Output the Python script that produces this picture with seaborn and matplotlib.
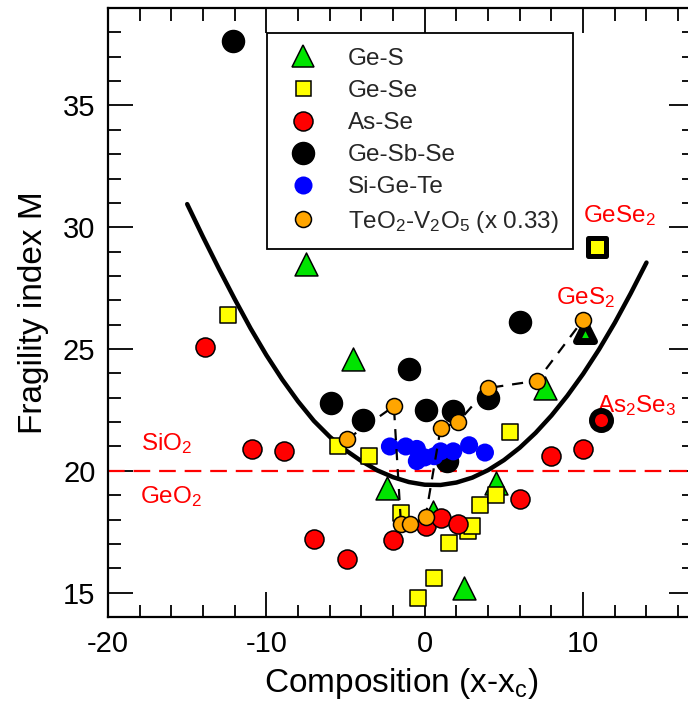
import numpy as np
import pandas as pd
import matplotlib
matplotlib.use("Agg")
import matplotlib.pyplot as plt
import seaborn as sns
from matplotlib.lines import Line2D

# ---------------- data ----------------
ges_x = [-7.5, -4.5, -2.4, 0.5, 2.5, 4.5, 7.6]
ges_y = [28.5, 24.6, 19.3, 18.3, 15.2, 19.5, 23.4]
ges2_x = [10.1]
ges2_y = [25.7]

gese_x = [-12.4, -5.5, -3.5, -1.5, -0.45, 0.6, 1.5, 2.7, 3.0, 3.5, 4.5, 5.4]
gese_y = [26.4, 21.0, 20.6, 18.25, 14.8, 15.6, 17.05, 17.55, 17.75, 18.6, 19.0, 21.6]
gese2_x = [10.9]
gese2_y = [29.2]

asse_x = [-13.9, -10.9, -8.9, -7.0, -4.9, -2.0, 0.05, 1.0, 2.1, 6.0, 8.0, 10.0]
asse_y = [25.1, 20.9, 20.8, 17.2, 16.4, 17.15, 17.75, 18.05, 17.8, 18.85, 20.6, 20.9]
as2se3_x = [11.1]
as2se3_y = [22.1]

gesbse_x = [-12.1, -5.9, -3.9, -1.0, 0.05, 1.8, 1.4, 4.0, 6.0]
gesbse_y = [37.65, 22.8, 22.1, 24.2, 22.5, 22.45, 20.4, 23.0, 26.1]

sigete_x = [-2.2, -1.2, -0.5, -0.5, 0.0, 0.6, 1.0, 1.8, 2.8, 3.8]
sigete_y = [21.0, 21.0, 20.9, 20.4, 20.55, 20.6, 20.8, 20.8, 21.05, 20.75]

teo_x = [-4.9, -1.95, -1.5, -0.95, 0.05, 1.0, 2.1, 4.0, 7.1, 10.0]
teo_y = [21.3, 22.65, 17.8, 17.8, 18.1, 21.75, 22.0, 23.4, 23.7, 26.2]

curve_x = [-15, -14, -13, -12, -11, -10, -9, -8, -7, -6, -5, -4, -3, -2, -1,
           0, 1, 2, 3, 4, 5, 6, 7, 8, 9, 10, 11, 12, 13, 14]
curve_y = [30.95, 29.6, 28.3, 27.05, 25.85, 24.75, 23.75, 22.85, 22.05, 21.4,
           20.85, 20.4, 20.02, 19.74, 19.54, 19.43, 19.42, 19.52, 19.72, 20.03,
           20.44, 20.95, 21.56, 22.27, 23.08, 23.98, 24.98, 26.08, 27.28, 28.55]

ref_x = [-20, 17.5]
ref_y = [20, 20]

labels = ["Ge-S", "Ge-Se", "As-Se", "Ge-Sb-Se", "Si-Ge-Te",
          "TeO$_2$-V$_2$O$_5$ (x 0.33)"]

# ---------------- style ----------------
sns.set_theme(style="ticks")
plt.rcParams["font.family"] = ["Liberation Sans", "DejaVu Sans"]
plt.rcParams["mathtext.default"] = "regular"
plt.rcParams["axes.unicode_minus"] = False

GREEN = "#00e400"
YELLOW = "#ffff00"
RED = "#ff0000"
BLUE = "#0000ff"
ORANGE = "#ffa500"

fig = plt.figure(figsize=(6.88, 7.04), dpi=100)
ax = fig.add_axes([108 / 688, (704 - 617) / 704, 586 / 688, 609 / 704])

# reference line and fit curve
sns.lineplot(x=ref_x, y=ref_y, ax=ax, color=RED, lw=1.6,
             linestyle=(0, (7.5, 4)), zorder=1)
sns.lineplot(x=curve_x, y=curve_y, ax=ax, color="black", lw=3.2, zorder=2)

ew = 1.1
sns.scatterplot(x=ges_x, y=ges_y, ax=ax, marker="^", s=272, color=GREEN,
                edgecolor="black", linewidth=ew, zorder=3)
sns.scatterplot(x=ges2_x, y=ges2_y, ax=ax, marker="^", s=169, color=GREEN,
                edgecolor="black", linewidth=5, zorder=3)
sns.scatterplot(x=gese_x, y=gese_y, ax=ax, marker="s", s=117, color=YELLOW,
                edgecolor="black", linewidth=ew, zorder=4)
sns.scatterplot(x=gese2_x, y=gese2_y, ax=ax, marker="s", s=169, color=YELLOW,
                edgecolor="black", linewidth=3.6, zorder=4)
sns.scatterplot(x=asse_x, y=asse_y, ax=ax, marker="o", s=188, color=RED,
                edgecolor="black", linewidth=ew, zorder=5)
sns.scatterplot(x=as2se3_x, y=as2se3_y, ax=ax, marker="o", s=188, color=RED,
                edgecolor="black", linewidth=4.3, zorder=5)
sns.scatterplot(x=gesbse_x, y=gesbse_y, ax=ax, marker="o", s=250, color="black",
                edgecolor="black", linewidth=ew, zorder=6)
sns.scatterplot(x=sigete_x, y=sigete_y, ax=ax, marker="o", s=169, color=BLUE,
                edgecolor="none", linewidth=0, zorder=7)
sns.lineplot(x=teo_x, y=teo_y, ax=ax, color="black", lw=1.6,
             linestyle=(0, (5, 4)), zorder=8)
sns.scatterplot(x=teo_x, y=teo_y, ax=ax, marker="o", s=133, color=ORANGE,
                edgecolor="black", linewidth=ew, zorder=9)

# annotations
tk = dict(color=RED, fontsize=17.5, ha="left", va="baseline")
ax.text(-17.9, 20.85, "SiO$_2$", **tk)
ax.text(-18.0, 18.66, "GeO$_2$", **tk)
ax.text(10.0, 30.2, "GeSe$_2$", **tk)
ax.text(8.27, 26.85, "GeS$_2$", **tk)
ax.text(10.9, 22.4, "As$_2$Se$_3$", **tk)

# axes
ax.set_xlim(-20, 17)
ax.set_ylim(14, 39)
ax.set_xticks([-20, -10, 0, 10])
ax.set_xticks(np.arange(-18, 17, 2), minor=True)
ax.set_yticks([15, 20, 25, 30, 35])
ax.set_yticks(np.arange(14, 40, 1), minor=True)
ax.tick_params(which="both", direction="in", top=True, right=True,
               width=1.3, color="black", labelsize=21, labelcolor="black")
ax.tick_params(which="major", length=18, pad=9)
ax.tick_params(which="minor", length=9)
for sp in ax.spines.values():
    sp.set_visible(True)
    sp.set_linewidth(1.6)
    sp.set_color("black")
ax.set_xlabel("Composition (x-x$_c$)", fontsize=24, labelpad=6, color="black")
ax.set_ylabel("Fragility index M", fontsize=24, labelpad=10, color="black")
ax.grid(False)

# legend
handles = [
    Line2D([], [], ls="none", marker="^", ms=16.5, mfc=GREEN, mec="black", mew=ew),
    Line2D([], [], ls="none", marker="s", ms=10.8, mfc=YELLOW, mec="black", mew=ew),
    Line2D([], [], ls="none", marker="o", ms=13.7, mfc=RED, mec="black", mew=ew),
    Line2D([], [], ls="none", marker="o", ms=15.8, mfc="black", mec="black", mew=ew),
    Line2D([], [], ls="none", marker="o", ms=13.0, mfc=BLUE, mec="none", mew=0),
    Line2D([], [], ls="none", marker="o", ms=11.5, mfc=ORANGE, mec="black", mew=ew),
]
leg = ax.legend(handles, labels, loc="upper left", bbox_to_anchor=(0.271, 0.959),
                fontsize=17.5, frameon=True, fancybox=False, framealpha=1,
                edgecolor="black", borderpad=0.6, labelspacing=0.42,
                handlelength=1.75, handletextpad=1.0, borderaxespad=0)
leg.get_frame().set_linewidth(1.3)
leg.set_zorder(20)

fig.savefig("out.png", dpi=100, facecolor="white")
